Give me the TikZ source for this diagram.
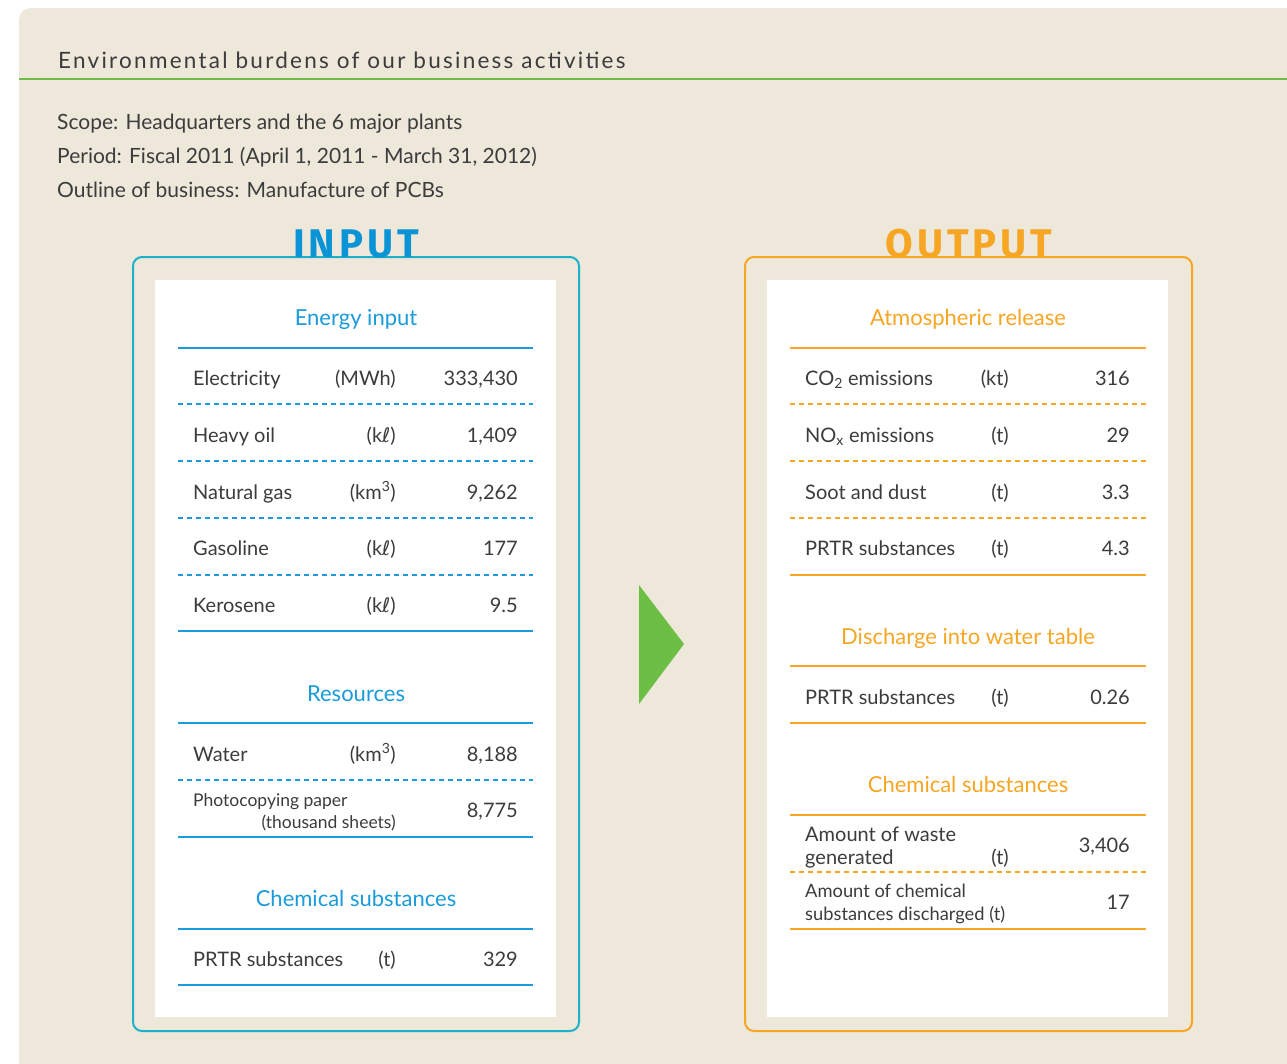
\documentclass[tikz,border=0pt]{standalone}
\usepackage{fontspec}
\setmainfont{Lato}
\newfontfamily\bigfont{Fira Sans}[LetterSpace=10]
\newfontfamily\titlefont{Lato}[LetterSpace=10]
\newfontfamily\symfont{DejaVu Sans}
\definecolor{bg}{HTML}{EEE8DB}
\definecolor{txt}{HTML}{3C3C3C}
\definecolor{inbox}{HTML}{1DB0CA}
\definecolor{inblue}{HTML}{1A9BDB}
\definecolor{inhead}{HTML}{0A94D6}
\definecolor{orng}{HTML}{F6A623}
\definecolor{grn}{HTML}{6CBE45}
\newcommand\kl{(k{\symfont ℓ})}
\newcommand\kmc{(km\textsuperscript{3})}
\newcommand\fs[1]{\fontsize{#1}{#1}\selectfont}
\tikzset{
  lbl/.style={anchor=base west, inner sep=0, text=txt, font=\fs{20}},
  unit/.style={anchor=base east, inner sep=0, text=txt, font=\fs{20}},
  val/.style={anchor=base east, inner sep=0, text=txt, font=\fs{20}},
  ihead/.style={anchor=base, inner sep=0, text=inblue, font=\fs{22}},
  ohead/.style={anchor=base, inner sep=0, text=orng, font=\fs{22}},
  isolid/.style={draw=inblue, line width=2.2},
  idash/.style={draw=inblue, line width=1.3, dash pattern=on 5pt off 4pt},
  osolid/.style={draw=orng, line width=2.2},
  odash/.style={draw=orng, line width=1.3, dash pattern=on 5pt off 4pt},
  intro/.style={anchor=base west, inner sep=0, text=txt, font=\fs{21}},
}
\newcommand\irow[5]{%
  \node[lbl] (#1l) at (193,#2) {#3};
  \node[unit] (#1u) at (396,#2) {#4};
  \node[val] (#1v) at (518,#2) {#5};}
\newcommand\orow[5]{%
  \node[lbl] (#1l) at (805,#2) {#3};
  \node[unit] (#1u) at (1009,#2) {#4};
  \node[val] (#1v) at (1130,#2) {#5};}
\newcommand\iline[2]{\draw[#1] (178,#2) -- (533,#2);}
\newcommand\oline[2]{\draw[#1] (790,#2) -- (1146,#2);}
\begin{document}
\begin{tikzpicture}[x=1pt,y=-1pt]
\useasboundingbox (0,0) rectangle (1287,1063);
\fill[white] (0,0) rectangle (1287,1063);
\fill[bg, rounded corners=12pt] (19,1100) -- (19,8) -- (1330,8) -- (1330,1100) -- cycle;
\draw[grn, line width=2.5] (19,79) -- (1330,79);
\node[anchor=base west, inner sep=0, text=txt, font=\titlefont\fs{22.5}] (title) at (58,68) {Environmental burdens of our business activities};
\node[intro] (scope) at (57,129) {Scope: Headquarters and the 6 major plants};
\node[intro] (period) at (57,163) {Period: Fiscal 2011 (April 1, 2011 - March 31, 2012)};
\node[intro] (outline) at (57,197) {Outline of business: Manufacture of PCBs};

% INPUT box
\draw[inbox, line width=2, rounded corners=9pt] (133,257) rectangle (579,1031);
\fill[white] (155,280) rectangle (556,1017);
\node[anchor=base, inner sep=0, text=inhead, font=\bigfont\bfseries\fs{40}] (inputt) at (356,257) {INPUT};

% OUTPUT box
\draw[orng, line width=2, rounded corners=9pt] (745,257) rectangle (1192,1031);
\fill[white] (767,280) rectangle (1168,1017);
\node[anchor=base, inner sep=0, text=orng, font=\bigfont\bfseries\fs{40}] (outputt) at (969,257) {OUTPUT};

% arrow
\fill[grn] (639,585) -- (684,644) -- (639,704) -- cycle;

% ---- input table
\node[ihead] (h1) at (356,325) {Energy input};
\iline{isolid}{348}
\irow{el}{385}{Electricity}{(MWh)}{333,430}
\iline{idash}{404}
\irow{ho}{442}{Heavy oil}{\kl}{1,409}
\iline{idash}{461}
\irow{ng}{499}{Natural gas}{\kmc}{9,262}
\iline{idash}{518}
\irow{ga}{555}{Gasoline}{\kl}{177}
\iline{idash}{575}
\irow{ke}{612}{Kerosene}{\kl}{9.5}
\iline{isolid}{631}
\node[ihead] (h2) at (356,701) {Resources};
\iline{isolid}{723}
\irow{wa}{761}{Water}{\kmc}{8,188}
\iline{idash}{780}
\node[lbl, font=\fs{17.5}] (pp1) at (193,806) {Photocopying paper};
\node[unit, font=\fs{17.5}] (pp2) at (396,828) {(thousand sheets)};
\node[val] (ppv) at (518,817) {8,775};
\iline{isolid}{837}
\node[ihead] (h3) at (356,906) {Chemical substances};
\iline{isolid}{929}
\irow{pr}{966}{PRTR substances}{(t)}{329}
\iline{isolid}{985}

% ---- output table
\node[ohead] (o1) at (968,325) {Atmospheric release};
\oline{osolid}{348}
\orow{co}{385}{CO\textsubscript{2} emissions}{(kt)}{316}
\oline{odash}{404}
\orow{no}{442}{NO\textsubscript{x} emissions}{(t)}{29}
\oline{odash}{461}
\orow{so}{499}{Soot and dust}{(t)}{3.3}
\oline{odash}{518}
\orow{pa}{555}{PRTR substances}{(t)}{4.3}
\oline{osolid}{575}
\node[ohead] (o2) at (968,644) {Discharge into water table};
\oline{osolid}{666}
\orow{pw}{704}{PRTR substances}{(t)}{0.26}
\oline{osolid}{723}
\node[ohead] (o3) at (968,792) {Chemical substances};
\oline{osolid}{815}
\node[lbl] (aw1) at (805,841) {Amount of waste};
\node[lbl] (aw2) at (805,864) {generated};
\node[unit] (awu) at (1009,864) {(t)};
\node[val] (awv) at (1130,852) {3,406};
\oline{odash}{872}
\node[lbl, font=\fs{18.3}] (ac1) at (805,897) {Amount of chemical};
\node[lbl, font=\fs{18.3}] (ac2) at (805,920) {substances discharged (t)};
\node[val] (acv) at (1130,909) {17};
\oline{osolid}{929}
\end{tikzpicture}
\end{document}
